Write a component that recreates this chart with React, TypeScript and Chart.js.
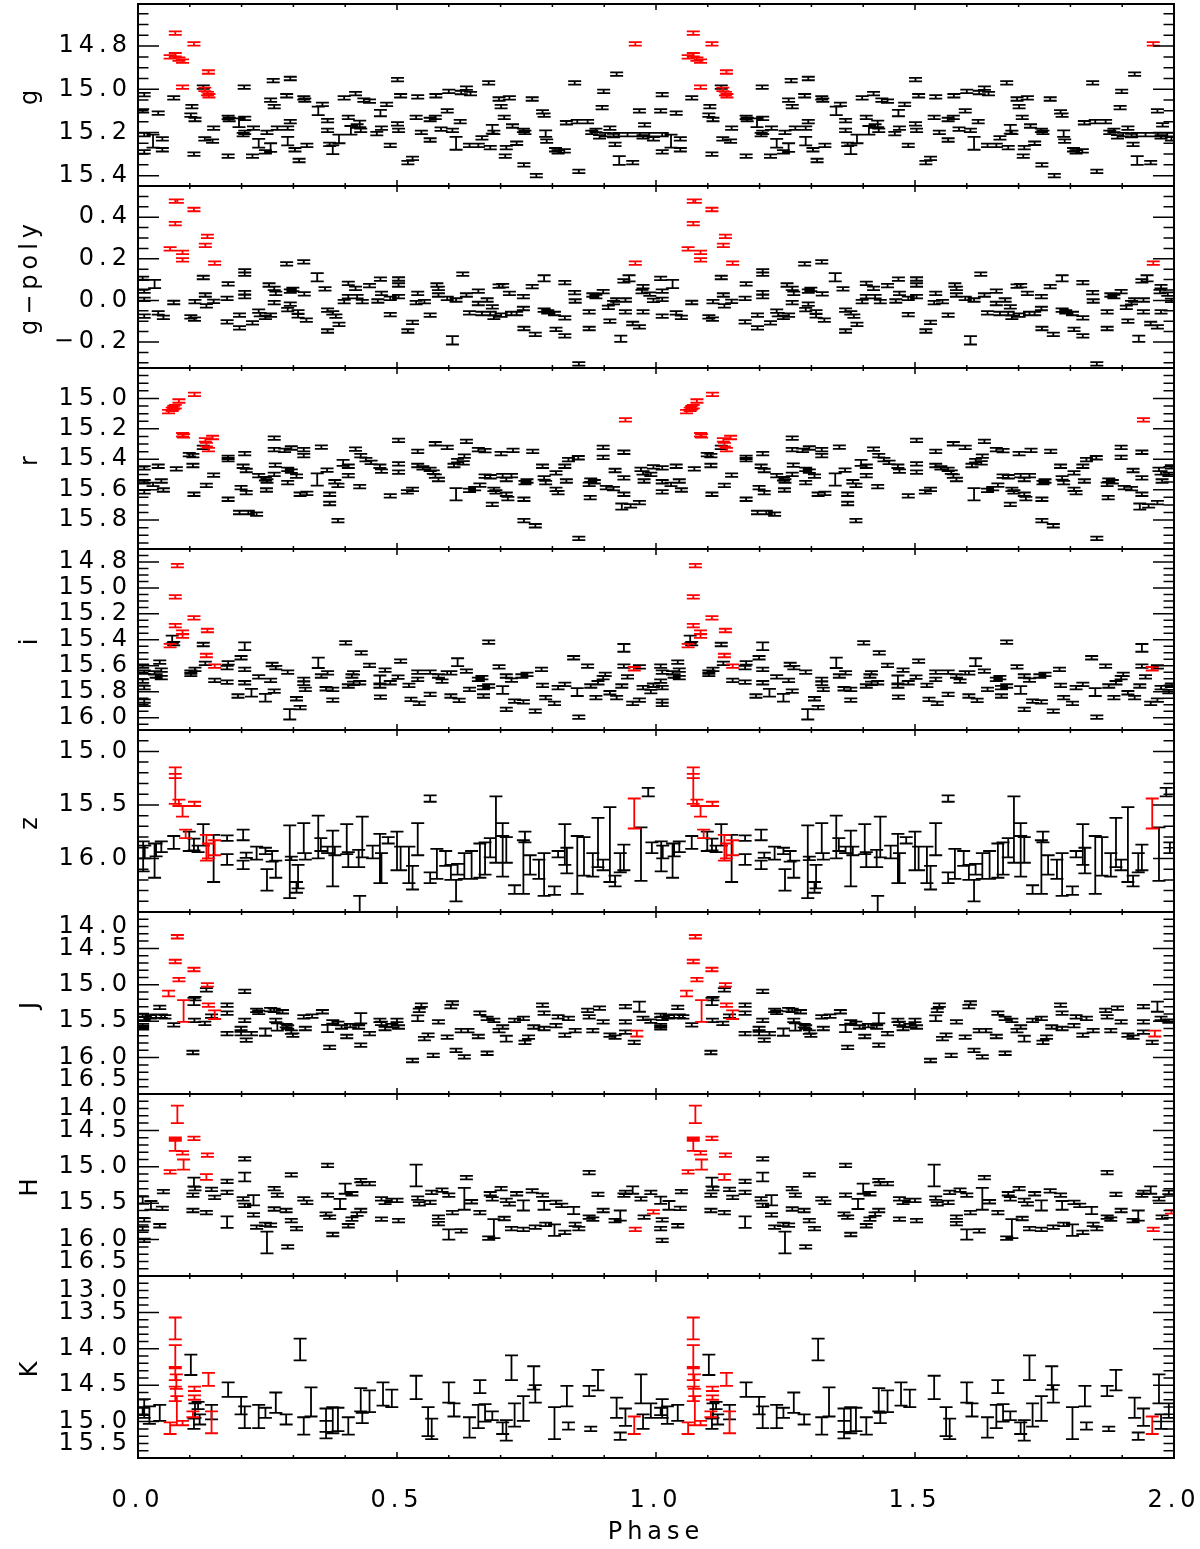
import React, { useEffect, useRef } from 'react';
import { Chart, registerables } from 'chart.js';
Chart.register(...registerables);

// ---------- DATA: [phase, magnitude, error?] for phase 0..1 (plot shows 2 cycles) ----------
const xTicks = [0, 0.5, 1.0, 1.5, 2.0];

const gErr = 0.008;
const gBlack = [[0.012,15.025],[0.009,15.10],[0.012,15.21],[0.012,15.29],[0.029,15.24,0.03],[0.039,15.11],[0.047,15.23],[0.047,15.28],[0.069,15.04],[0.126,14.99],[0.104,15.08],[0.102,15.12],[0.110,15.14],[0.108,15.30],[0.129,15.23],[0.144,15.24],[0.146,15.18],[0.174,15.13],[0.176,15.14],[0.174,15.31],[0.195,15.155,0.02],[0.206,15.135],[0.205,14.99],[0.206,15.20],[0.203,15.21],[0.223,15.18],[0.221,15.31],[0.233,15.25,0.02],[0.246,15.29],[0.249,15.20],[0.256,15.27,0.02],[0.256,15.05],[0.263,15.08],[0.261,14.96],[0.269,15.18],[0.289,15.18],[0.294,14.95],[0.287,15.03],[0.294,15.15],[0.289,15.24,0.02],[0.303,15.28],[0.311,15.33],[0.320,15.04],[0.322,15.05],[0.326,15.26],[0.348,15.10,0.02],[0.356,15.07],[0.366,15.145],[0.366,15.19],[0.370,15.255],[0.376,15.28,0.02],[0.388,15.23,0.02],[0.398,15.04],[0.406,15.13],[0.411,15.19,0.02],[0.420,15.02],[0.423,15.17],[0.428,15.16,0.015],[0.430,15.19],[0.436,15.05],[0.447,15.055],[0.461,15.205],[0.468,15.11,0.015],[0.470,15.18],[0.480,15.07],[0.487,15.26],[0.501,14.955],[0.501,15.16],[0.503,15.19],[0.507,15.03],[0.521,15.34],[0.530,15.32],[0.537,15.13],[0.540,15.035],[0.547,15.20],[0.564,15.235],[0.564,15.14],[0.574,15.13],[0.575,15.03],[0.585,15.185],[0.597,15.10],[0.600,15.01],[0.607,15.19],[0.614,15.25,0.03],[0.624,15.015],[0.634,14.995],[0.622,15.15],[0.640,15.26],[0.642,15.02],[0.657,15.26],[0.664,15.225],[0.677,14.97],[0.684,15.185,0.02],[0.687,15.20],[0.680,15.27],[0.697,15.045],[0.701,15.08],[0.707,15.13],[0.711,15.27],[0.709,15.31],[0.717,15.04],[0.723,15.17],[0.731,15.25],[0.744,15.19],[0.747,15.20],[0.745,15.35],[0.761,15.045],[0.769,15.40],[0.781,15.105],[0.784,15.12],[0.787,15.205,0.015],[0.789,15.24],[0.806,15.28],[0.811,15.29],[0.823,15.285],[0.827,15.155],[0.843,14.97],[0.851,15.38],[0.848,15.15],[0.868,15.15],[0.876,15.20],[0.884,15.19],[0.891,15.22],[0.902,15.21],[0.896,15.085],[0.899,15.01],[0.911,15.18],[0.918,15.215],[0.928,15.21],[0.921,15.255],[0.924,14.93],[0.929,15.33,0.02],[0.945,15.21],[0.955,15.34],[0.968,15.10],[0.969,15.21],[0.975,15.22],[0.978,15.165],[0.987,15.21],[0.995,15.23]];
const gRed = [[0.062,14.85],[0.072,14.84],[0.072,14.74],[0.079,14.86],[0.086,14.87],[0.086,14.99],[0.108,14.79],[0.136,14.92],[0.129,15.00],[0.134,15.02],[0.137,15.03],[0.960,14.79]];

const gpErr = 0.008;
const gpBlack = [[0.009,0.106],[0.012,0.045],[0.012,0.005],[0.012,-0.076],[0.032,0.079,0.02],[0.039,-0.06],[0.049,-0.082],[0.069,-0.01],[0.126,0.110],[0.110,-0.006],[0.102,-0.079],[0.109,-0.09],[0.130,0.026],[0.132,-0.026],[0.146,-0.005],[0.174,0.079],[0.172,0.010],[0.172,-0.103],[0.196,-0.132],[0.206,0.142],[0.206,0.126],[0.206,0.018],[0.206,0.037],[0.196,-0.071],[0.221,-0.108],[0.233,-0.052],[0.236,-0.068],[0.246,-0.082],[0.256,-0.071],[0.253,0.074],[0.263,0.058],[0.266,0.034],[0.263,-0.011],[0.287,0.176],[0.294,0.045],[0.299,0.053],[0.294,-0.018],[0.289,-0.044],[0.309,-0.055],[0.309,-0.074],[0.320,0.185],[0.321,0.031],[0.325,-0.095],[0.346,0.111,0.02],[0.361,0.055],[0.366,-0.147],[0.366,-0.047],[0.376,-0.06],[0.382,-0.076],[0.388,-0.115],[0.398,-0.006],[0.406,0.082],[0.406,0.018],[0.420,0.058],[0.423,0.018],[0.433,-0.006],[0.447,0.071],[0.468,0.102],[0.463,-0.003],[0.470,0.034],[0.487,-0.068],[0.487,0.010],[0.503,0.103],[0.503,0.074],[0.503,0.018],[0.521,-0.147],[0.530,-0.106],[0.540,0.034],[0.537,-0.011],[0.553,-0.006],[0.564,-0.071],[0.577,0.074],[0.580,0.058],[0.580,0.026],[0.597,0.010],[0.607,-0.192,0.02],[0.614,0.002],[0.627,0.126],[0.634,0.026],[0.640,-0.06],[0.657,0.045],[0.657,-0.015],[0.664,-0.063],[0.674,0.002],[0.684,-0.031],[0.680,-0.063],[0.687,-0.082],[0.697,0.069],[0.704,0.071],[0.701,-0.071],[0.717,0.034],[0.721,-0.063],[0.731,-0.063],[0.744,0.018],[0.745,-0.135],[0.744,-0.039],[0.761,0.066],[0.767,-0.163],[0.784,0.106,0.015],[0.784,-0.047],[0.791,-0.055],[0.804,-0.063],[0.807,-0.139],[0.824,-0.171],[0.824,-0.084],[0.824,0.085],[0.843,0.037],[0.844,-0.003],[0.851,-0.305],[0.871,-0.055],[0.871,-0.135],[0.878,0.026],[0.884,0.018],[0.898,0.042],[0.908,-0.034],[0.911,-0.1],[0.918,-0.011],[0.924,0.002],[0.941,0.002],[0.932,-0.184,0.015],[0.938,0.094],[0.941,-0.055],[0.948,0.106,0.015],[0.955,-0.111],[0.968,-0.127],[0.975,0.066],[0.973,0.042],[0.975,-0.055],[0.988,0.03],[0.995,0.0]];
const gpRed = [[0.072,0.477],[0.076,0.477],[0.072,0.369],[0.062,0.248],[0.086,0.231],[0.086,0.195],[0.108,0.437],[0.134,0.308],[0.130,0.265],[0.148,0.179],[0.960,0.179]];

const rErr = 0.01;
const rBlack = [[0.012,15.457],[0.012,15.548],[0.012,15.615],[0.029,15.565],[0.039,15.446],[0.045,15.543],[0.049,15.602],[0.074,15.463],[0.099,15.37],[0.106,15.376],[0.106,15.441],[0.108,15.630],[0.126,15.322],[0.132,15.572],[0.146,15.504],[0.174,15.663],[0.174,15.387],[0.174,15.402],[0.199,15.587],[0.209,15.62],[0.206,15.363],[0.203,15.446],[0.209,15.474],[0.196,15.75],[0.213,15.75],[0.229,15.761],[0.233,15.507],[0.246,15.528],[0.249,15.543],[0.248,15.602],[0.263,15.261],[0.263,15.337],[0.265,15.439],[0.263,15.50],[0.283,15.341],[0.296,15.326],[0.289,15.467],[0.296,15.478],[0.289,15.554],[0.306,15.511],[0.320,15.337],[0.320,15.376],[0.313,15.63],[0.326,15.624],[0.346,15.533,0.04],[0.354,15.32],[0.365,15.472],[0.370,15.63],[0.370,15.691],[0.380,15.548],[0.386,15.572],[0.386,15.804],[0.396,15.424,0.02],[0.406,15.446],[0.406,15.507],[0.428,15.58],[0.420,15.333],[0.430,15.376],[0.440,15.402],[0.450,15.42],[0.467,15.446],[0.470,15.478],[0.487,15.641],[0.503,15.276],[0.503,15.43],[0.503,15.485],[0.520,15.615],[0.530,15.598],[0.540,15.348],[0.540,15.441],[0.550,15.457],[0.564,15.467],[0.570,15.485],[0.574,15.511],[0.580,15.533],[0.574,15.298],[0.597,15.322],[0.610,15.441],[0.617,15.409],[0.628,15.424],[0.630,15.38],[0.614,15.63,0.04],[0.634,15.283],[0.640,15.604],[0.650,15.593],[0.657,15.337],[0.670,15.343],[0.660,15.57],[0.670,15.511],[0.680,15.515],[0.687,15.598],[0.691,15.615],[0.684,15.696],[0.701,15.363],[0.704,15.507],[0.711,15.533],[0.721,15.507],[0.711,15.63],[0.714,15.659],[0.724,15.341],[0.747,15.554],[0.751,15.543],[0.745,15.663],[0.745,15.804],[0.767,15.837],[0.762,15.348],[0.781,15.446],[0.784,15.522],[0.787,15.554],[0.807,15.489],[0.807,15.598],[0.811,15.62],[0.824,15.446],[0.827,15.543],[0.831,15.402],[0.851,15.92],[0.850,15.39],[0.871,15.565],[0.874,15.537],[0.881,15.548],[0.873,15.652],[0.898,15.322],[0.898,15.387],[0.904,15.587],[0.918,15.593],[0.921,15.474],[0.938,15.354],[0.938,15.522],[0.938,15.63],[0.934,15.711,0.02],[0.951,15.707],[0.968,15.685],[0.971,15.467],[0.975,15.489],[0.977,15.543],[0.990,15.5],[0.995,15.45]];
const rRed = [[0.059,15.087],[0.066,15.072],[0.069,15.06],[0.072,15.054],[0.079,15.017],[0.086,15.239],[0.088,15.246],[0.109,14.974],[0.130,15.272],[0.132,15.304],[0.136,15.337],[0.144,15.257],[0.941,15.141]];

const iErr = 0.01;
const iBlack = [[0.009,15.603],[0.012,15.649],[0.009,15.718],[0.012,15.769],[0.012,15.872],[0.012,15.897],[0.032,15.654],[0.035,15.679],[0.045,15.692],[0.045,15.633],[0.042,15.572],[0.066,15.397,0.03],[0.069,15.43],[0.102,15.649],[0.110,15.628],[0.102,15.667],[0.126,15.436],[0.130,15.582],[0.148,15.713],[0.174,15.577],[0.172,15.615],[0.172,15.726],[0.193,15.833],[0.206,15.449,0.03],[0.199,15.538],[0.206,15.628],[0.206,15.731],[0.219,15.808,0.03],[0.233,15.685],[0.246,15.846,0.03],[0.259,15.59],[0.266,15.615],[0.256,15.713],[0.263,15.795],[0.289,15.649],[0.293,15.974,0.04],[0.306,15.854],[0.313,15.923],[0.320,15.705],[0.320,15.736],[0.323,15.782],[0.348,15.577,0.04],[0.354,15.679],[0.366,15.654],[0.363,15.777],[0.376,15.782],[0.376,15.864],[0.401,15.423],[0.406,15.756],[0.416,15.736],[0.413,15.679],[0.416,15.654],[0.431,15.5],[0.447,15.597],[0.428,15.731],[0.467,15.705,0.03],[0.467,15.756],[0.468,15.841],[0.477,15.633],[0.487,15.731],[0.502,15.687],[0.507,15.564],[0.523,15.751],[0.527,15.859],[0.543,15.89],[0.540,15.649],[0.540,15.705],[0.564,15.649],[0.564,15.821],[0.580,15.679],[0.587,15.718],[0.604,15.654],[0.597,15.654],[0.604,15.833],[0.620,15.867],[0.617,15.572,0.03],[0.634,15.641],[0.640,15.782],[0.657,15.705],[0.664,15.692],[0.667,15.769],[0.677,15.756],[0.677,15.418],[0.667,15.833],[0.697,15.608],[0.711,15.679],[0.704,15.787,0.03],[0.711,15.936],[0.721,15.71],[0.727,15.872],[0.744,15.879],[0.741,15.679],[0.751,15.667],[0.767,15.949],[0.779,15.628],[0.781,15.751],[0.787,15.846],[0.804,15.89],[0.811,15.769],[0.824,15.744],[0.841,15.538],[0.848,15.803,0.03],[0.851,15.995],[0.868,15.603],[0.874,15.756],[0.884,15.846],[0.888,15.731],[0.898,15.692],[0.902,15.667],[0.911,15.808],[0.924,15.846],[0.934,15.756],[0.938,15.462,0.03],[0.938,15.603],[0.945,15.685],[0.955,15.89],[0.968,15.864],[0.968,15.608],[0.975,15.769],[0.990,15.8],[0.995,15.75]];
const iRed = [[0.076,14.828],[0.072,15.069],[0.072,15.29],[0.062,15.444],[0.086,15.341],[0.086,15.372],[0.108,15.231],[0.134,15.328],[0.132,15.521],[0.148,15.603],[0.958,15.623]];

const zErr = 0.03;
const zBlack = [[0.010,15.98,0.14],[0.013,15.94,0.06],[0.032,16.02,0.16],[0.035,15.92,0.06],[0.045,15.89,0.05],[0.069,15.85,0.06],[0.099,15.84,0.09],[0.108,15.87,0.055],[0.116,15.91,0.03],[0.126,15.78,0.10],[0.146,16.0,0.22],[0.172,15.81,0.025],[0.172,16.01,0.05],[0.203,15.78,0.05],[0.203,16.06,0.04],[0.209,15.97,0.025],[0.229,15.95,0.06],[0.246,15.93,0.03],[0.249,16.2,0.1],[0.259,15.98,0.05],[0.266,16.1,0.08],[0.293,16.03,0.34],[0.296,16.0,0.01],[0.309,16.17,0.11],[0.306,16.27,0.05],[0.320,15.81,0.14],[0.323,15.98,0.03],[0.348,15.8,0.2],[0.353,15.87,0.06],[0.366,15.92,0.03],[0.376,16.0,0.26],[0.380,15.93,0.04],[0.403,15.82,0.14],[0.406,16.01,0.07],[0.426,16.0,0.08],[0.428,16.45,0.1],[0.433,15.8,0.19],[0.453,15.94,0.06],[0.467,16.0,0.23],[0.470,16.09,0.14],[0.483,15.83,0.03],[0.500,15.93,0.18],[0.507,16.0,0.11],[0.523,16.06,0.17],[0.530,16.18,0.11],[0.540,15.82,0.15],[0.564,15.44,0.03],[0.564,16.18,0.05],[0.577,16.05,0.14],[0.594,16.0,0.07],[0.604,16.13,0.07],[0.614,16.3,0.1],[0.617,16.1,0.05],[0.630,16.07,0.12],[0.644,16.06,0.13],[0.660,16.02,0.16],[0.670,16.0,0.15],[0.680,15.9,0.09],[0.691,15.73,0.31],[0.704,15.73,0.06],[0.704,15.98,0.19],[0.711,15.92,0.12],[0.727,16.29,0.04],[0.744,16.08,0.25],[0.747,15.8,0.05],[0.757,16.06,0.09],[0.774,16.1,0.09],[0.784,16.15,0.2],[0.804,16.3,0.04],[0.811,15.96,0.03],[0.824,15.87,0.19],[0.828,16.02,0.12],[0.848,16.06,0.27],[0.861,15.98,0.18],[0.878,16.06,0.11],[0.888,15.85,0.23],[0.898,16.06,0.05],[0.911,15.87,0.35],[0.921,16.21,0.05],[0.931,16.04,0.09],[0.938,15.99,0.12],[0.971,15.96,0.25],[0.985,15.38,0.04],[0.992,15.9,0.05]];
const zRed = [[0.072,15.32,0.17],[0.072,15.23,0.02],[0.079,15.48,0.03],[0.086,15.56,0.05],[0.109,15.49,0.02],[0.092,15.77,0.04],[0.132,15.9,0.12],[0.136,15.93,0.07],[0.148,15.9,0.07],[0.958,15.58,0.14]];

const jErr = 0.012;
const jBlack = [[0.009,15.42],[0.012,15.46],[0.009,15.56],[0.009,15.59],[0.025,15.44],[0.035,15.43],[0.042,15.31],[0.045,15.43],[0.052,15.44],[0.069,15.55],[0.108,15.23,0.05],[0.109,15.49],[0.106,15.93],[0.110,15.19],[0.129,15.53],[0.132,15.07],[0.142,15.43],[0.172,15.28],[0.172,15.39],[0.172,15.67],[0.199,15.6],[0.206,15.49],[0.206,15.09],[0.199,15.67],[0.209,15.76],[0.219,15.67],[0.229,15.35],[0.233,15.38],[0.246,15.65,0.05],[0.256,15.34],[0.263,15.35],[0.266,15.49],[0.269,15.58,0.05],[0.279,15.37],[0.286,15.56],[0.289,15.58],[0.296,15.65],[0.299,15.69],[0.320,15.44],[0.323,15.6],[0.336,15.43],[0.356,15.37],[0.366,15.6,0.05],[0.370,15.86],[0.376,15.51],[0.386,15.53],[0.393,15.58],[0.403,15.71],[0.410,15.56],[0.430,15.46,0.07],[0.426,15.58],[0.430,15.83],[0.447,15.67],[0.467,15.49],[0.470,15.53],[0.477,15.6],[0.490,15.56],[0.500,15.49],[0.503,15.58],[0.530,16.04],[0.540,15.46,0.04],[0.543,15.35],[0.547,15.28],[0.553,15.74],[0.560,15.69],[0.570,15.97],[0.580,15.51],[0.597,15.72],[0.604,15.3],[0.607,15.25],[0.614,15.9],[0.630,15.99],[0.624,15.63],[0.637,15.63],[0.657,15.71],[0.674,15.94],[0.660,15.39],[0.674,15.46],[0.687,15.49],[0.697,15.63],[0.704,15.58],[0.711,15.74,0.04],[0.727,15.49],[0.744,15.46],[0.747,15.79],[0.754,15.72],[0.764,15.58],[0.781,15.28],[0.784,15.39],[0.784,15.6],[0.807,15.56],[0.811,15.44],[0.831,15.46],[0.824,15.69],[0.844,15.63],[0.868,15.35],[0.871,15.44],[0.878,15.63],[0.891,15.32],[0.898,15.51],[0.911,15.69],[0.921,15.72],[0.941,15.3],[0.941,15.51],[0.941,15.65],[0.958,15.79],[0.968,15.3,0.07],[0.975,15.46],[0.990,15.5]];
const jRed = [[0.076,14.34],[0.072,14.68],[0.079,14.93],[0.108,14.79],[0.059,15.12,0.04],[0.088,15.36,0.15],[0.134,15.0],[0.136,15.28],[0.148,15.41,0.06],[0.963,15.67,0.04]];

const hErr = 0.015;
const hBlack = [[0.009,15.46,0.05],[0.025,15.53,0.06],[0.012,15.73],[0.009,15.85],[0.012,16.01],[0.042,15.81],[0.049,15.34],[0.047,15.57],[0.108,15.21,0.06],[0.110,15.3],[0.106,15.39],[0.106,15.6],[0.132,15.63],[0.142,15.31],[0.148,15.42],[0.172,15.2],[0.172,15.35],[0.172,15.76,0.08],[0.206,14.89],[0.206,15.14,0.06],[0.203,15.44],[0.206,15.53],[0.223,15.46,0.07],[0.223,15.66],[0.229,15.83],[0.246,15.79],[0.256,15.8],[0.249,16.04,0.15],[0.263,15.58],[0.263,15.3],[0.269,15.39],[0.286,15.6],[0.296,15.11],[0.296,15.74],[0.306,15.85],[0.289,16.1],[0.320,15.44],[0.326,15.49],[0.366,14.98],[0.366,15.39],[0.363,15.65],[0.370,15.69],[0.376,15.93],[0.390,15.51,0.07],[0.400,15.3,0.07],[0.406,15.81],[0.413,15.37],[0.413,15.72],[0.423,15.65],[0.430,15.19],[0.433,15.23],[0.447,15.23],[0.430,15.6],[0.470,15.44],[0.477,15.49],[0.470,15.72],[0.490,15.46],[0.500,15.46],[0.503,15.74],[0.537,15.12,0.15],[0.540,15.43],[0.543,15.51],[0.564,15.49],[0.567,15.35],[0.587,15.32],[0.580,15.69],[0.580,15.78],[0.600,15.39],[0.600,15.93,0.07],[0.607,15.63],[0.624,15.88],[0.634,15.15],[0.630,15.44,0.15],[0.644,15.48],[0.660,15.63],[0.677,15.98],[0.680,15.37],[0.684,15.44],[0.687,15.85,0.13],[0.701,15.3],[0.707,15.71],[0.711,15.46],[0.717,15.51],[0.731,15.37],[0.721,15.85],[0.744,15.53,0.07],[0.744,15.86],[0.761,15.33],[0.767,15.83],[0.781,15.39],[0.784,15.53,0.06],[0.787,15.79],[0.804,15.87,0.08],[0.807,15.49],[0.818,15.53],[0.824,15.9],[0.841,15.6,0.05],[0.844,15.79],[0.851,15.85],[0.871,15.08],[0.871,15.69],[0.888,15.38],[0.878,15.72],[0.898,15.6],[0.921,15.74],[0.931,15.67,0.07],[0.938,15.39],[0.941,15.35],[0.955,15.32,0.05],[0.971,15.44],[0.977,15.69],[0.990,15.35]];
const hRed = [[0.076,14.28,0.12],[0.072,14.62],[0.072,14.7,0.08],[0.108,14.61],[0.086,14.81],[0.088,14.97,0.07],[0.062,15.07],[0.134,14.84],[0.132,15.14,0.04],[0.960,15.86],[0.995,15.62]];

const kErr = 0.05;
const kBlack = [[0.012,14.82,0.13],[0.009,14.86],[0.022,14.91,0.12],[0.042,14.88,0.11],[0.102,14.22,0.14],[0.110,14.85,0.1],[0.108,15.03,0.07],[0.116,14.78],[0.119,14.97,0.07],[0.142,14.87,0.1],[0.174,14.56,0.1],[0.199,14.78,0.12],[0.206,14.94,0.15],[0.233,14.93,0.16],[0.246,14.88,0.07],[0.266,14.74,0.14],[0.286,14.97,0.07],[0.313,14.01,0.15],[0.320,15.06,0.12],[0.334,14.73,0.2],[0.363,14.98,0.16],[0.363,15.11,0.12],[0.376,14.98,0.18],[0.386,14.97,0.16],[0.406,15.06,0.12],[0.430,14.7,0.16],[0.433,14.95,0.07],[0.447,14.72,0.15],[0.473,14.62,0.16],[0.490,14.68,0.12],[0.537,14.53,0.16],[0.560,15.0,0.2],[0.567,15.1,0.14],[0.600,14.6,0.14],[0.610,14.84,0.09],[0.640,15.08,0.14],[0.657,14.93,0.16],[0.660,14.52,0.09],[0.670,14.88,0.12],[0.684,14.92,0.06],[0.704,15.09,0.08],[0.711,15.12,0.14],[0.721,14.26,0.17],[0.727,14.91,0.16],[0.744,14.82,0.17],[0.764,14.4,0.16],[0.767,14.62,0.12],[0.804,15.02,0.22],[0.828,14.65,0.14],[0.831,15.06,0.05],[0.871,14.58,0.07],[0.888,14.43,0.14],[0.874,15.1,0.03],[0.924,14.81,0.14],[0.931,15.2,0.05],[0.941,14.94,0.12],[0.971,14.55,0.2],[0.975,15.0,0.1],[0.990,14.85,0.1]];
const kRed = [[0.072,13.72,0.15],[0.072,14.1,0.15],[0.072,14.35,0.08],[0.074,14.45,0.1],[0.072,14.62,0.1],[0.075,14.85,0.2],[0.062,15.09,0.08],[0.086,15.02,0.03],[0.109,14.55,0.03],[0.109,14.67,0.03],[0.106,14.9,0.04],[0.136,14.42,0.09],[0.142,15.01,0.15],[0.958,15.05,0.12]];

// ---------- panel definitions (axis ranges and tick labels) ----------
const PANELS = [
  { label: 'g', black: gBlack, red: gRed, err: gErr, min: 14.605, max: 15.448, reverse: true, majors: [14.8, 15.0, 15.2, 15.4], minor: 0.05 },
  { label: 'g\u2212poly', black: gpBlack, red: gpRed, err: gpErr, min: -0.325, max: 0.55, reverse: false, majors: [-0.2, 0.0, 0.2, 0.4], minor: 0.05 },
  { label: 'r', black: rBlack, red: rRed, err: rErr, min: 14.80, max: 15.99, reverse: true, majors: [15.0, 15.2, 15.4, 15.6, 15.8], minor: 0.05 },
  { label: 'i', black: iBlack, red: iRed, err: iErr, min: 14.70, max: 16.095, reverse: true, majors: [14.8, 15.0, 15.2, 15.4, 15.6, 15.8, 16.0], minor: 0.05 },
  { label: 'z', black: zBlack, red: zRed, err: zErr, min: 14.8, max: 16.5, reverse: true, majors: [15.0, 15.5, 16.0], minor: 0.1 },
  { label: 'J', black: jBlack, red: jRed, err: jErr, min: 14.0, max: 16.5, reverse: true, majors: [14.0, 14.5, 15.0, 15.5, 16.0, 16.5], minor: 0.1 },
  { label: 'H', black: hBlack, red: hRed, err: hErr, min: 14.0, max: 16.5, reverse: true, majors: [14.0, 14.5, 15.0, 15.5, 16.0, 16.5], minor: 0.1 },
  { label: 'K', black: kBlack, red: kRed, err: kErr, min: 13.0, max: 15.5, reverse: true, majors: [13.0, 13.5, 14.0, 14.5, 15.0, 15.5], minor: 0.1 },
];

// ---------- layout / style ----------
const W = 1200;
const EDGES = [4, 186, 368, 549, 730, 912, 1094, 1276, 1458];
const PAD = 40;
const XAXIS_H = 90;
const LEFT = 138;
const RIGHT_PAD = 26;
const FONT = { family: 'DejaVu Sans', size: 24, weight: 'normal' as const };
const CAP = 6.5;

const fmt = (v: number) => (v < -1e-9 ? '\u2212' : '') + Math.abs(v).toFixed(1);

const toPoints = (pts: number[][], defErr: number) => {
  const out: { x: number; y: number; e: number }[] = [];
  for (const cyc of [0, 1]) for (const p of pts) out.push({ x: p[0] + cyc, y: p[1], e: p[2] ?? defErr });
  return out;
};

const spacingPlugin = {
  id: 'spacing',
  beforeDraw(chart: any) { try { chart.ctx.letterSpacing = '5px'; } catch (e) {} },
  afterDraw(chart: any) { try { chart.ctx.letterSpacing = '0px'; } catch (e) {} },
};

const errorBarPlugin = {
  id: 'errorBars',
  afterDatasetsDraw(chart: any) {
    const { ctx, chartArea: a } = chart;
    ctx.save();
    ctx.beginPath();
    ctx.rect(a.left, a.top, a.right - a.left, a.bottom - a.top);
    ctx.clip();
    chart.data.datasets.forEach((ds: any, i: number) => {
      const meta = chart.getDatasetMeta(i);
      const xs = chart.scales[meta.xAxisID];
      const ys = chart.scales[meta.yAxisID];
      ctx.strokeStyle = ds.borderColor;
      ctx.lineWidth = 1.8;
      ctx.beginPath();
      for (const d of ds.data) {
        const x = xs.getPixelForValue(d.x);
        let y1 = ys.getPixelForValue(d.y - d.e);
        let y2 = ys.getPixelForValue(d.y + d.e);
        if (Math.abs(y2 - y1) < 3.5) { const m = (y1 + y2) / 2; y1 = m - 1.75; y2 = m + 1.75; }
        ctx.moveTo(x, y1); ctx.lineTo(x, y2);
        ctx.moveTo(x - CAP, y1); ctx.lineTo(x + CAP, y1);
        ctx.moveTo(x - CAP, y2); ctx.lineTo(x + CAP, y2);
      }
      ctx.stroke();
    });
    ctx.restore();
  },
};

const framePlugin = {
  id: 'frame',
  afterDraw(chart: any, _args: any, opts: any) {
    const { ctx, chartArea: a } = chart;
    const xs = chart.scales.x, ys = chart.scales.y;
    ctx.save();
    ctx.strokeStyle = '#000';
    ctx.lineWidth = 1.5;
    ctx.beginPath();
    for (let i = 0; i <= 20; i++) {
      const px = xs.getPixelForValue(i / 10);
      const len = i % 5 === 0 ? 6 : 3;
      ctx.moveTo(px, a.top); ctx.lineTo(px, a.top + len);
      ctx.moveTo(px, a.bottom); ctx.lineTo(px, a.bottom - len);
    }
    const step = opts.minor;
    const n0 = Math.ceil(opts.min / step - 1e-6), n1 = Math.floor(opts.max / step + 1e-6);
    for (let n = n0; n <= n1; n++) {
      const v = n * step;
      const isMajor = opts.majors.some((m: number) => Math.abs(m - v) < step / 10);
      const len = isMajor ? 21 : 10.5;
      const py = ys.getPixelForValue(v);
      ctx.moveTo(a.left, py); ctx.lineTo(a.left + len, py);
      ctx.moveTo(a.right, py); ctx.lineTo(a.right - len, py);
    }
    ctx.stroke();
    ctx.lineWidth = 2;
    ctx.strokeRect(a.left, a.top, a.right - a.left, a.bottom - a.top);
    ctx.restore();
  },
};

function Panel({ idx }: { idx: number }) {
  const ref = useRef<HTMLCanvasElement>(null);
  const cfg = PANELS[idx];
  const isLast = idx === PANELS.length - 1;
  const top = EDGES[idx] - PAD;
  const height = EDGES[idx + 1] - EDGES[idx] + PAD + (isLast ? XAXIS_H : PAD);

  useEffect(() => {
    if (!ref.current) return;
    const topVal = cfg.reverse ? cfg.min : cfg.max;
    const botVal = cfg.reverse ? cfg.max : cfg.min;
    const yLabel = (val: any) => {
      const v = Number(val);
      const s = fmt(v);
      if (Math.abs(v - topVal) < 1e-6) return ['', s]; // edge label kept inside the frame
      if (Math.abs(v - botVal) < 1e-6) return [s, ''];
      return s;
    };
    const chart = new Chart(ref.current, {
      type: 'scatter',
      data: {
        datasets: [
          { data: toPoints(cfg.black, cfg.err), borderColor: '#000000', backgroundColor: '#000000', pointRadius: 0, showLine: false },
          { data: toPoints(cfg.red, cfg.err), borderColor: '#ff0000', backgroundColor: '#ff0000', pointRadius: 0, showLine: false },
        ],
      } as any,
      options: {
        animation: false,
        responsive: false,
        devicePixelRatio: 1,
        events: [],
        layout: { padding: { left: 0, right: RIGHT_PAD, top: PAD, bottom: isLast ? 0 : PAD } },
        plugins: {
          legend: { display: false },
          tooltip: { enabled: false },
          frame: { min: cfg.min, max: cfg.max, majors: cfg.majors, minor: cfg.minor },
        } as any,
        scales: {
          x: {
            type: 'linear', min: 0, max: 2, display: isLast,
            grid: { display: false, drawTicks: true, tickLength: 28 }, border: { display: false },
            afterBuildTicks: (s: any) => { s.ticks = xTicks.map((v) => ({ value: v })); },
            ticks: { padding: 0, font: FONT, color: '#000', maxRotation: 0, autoSkip: false, callback: (v: any) => Number(v).toFixed(1) },
            title: { display: true, text: 'Phase', font: FONT, color: '#000', padding: { top: 0, bottom: 1 } },
            afterFit: (s: any) => { if (isLast) s.height = XAXIS_H; },
          },
          y: {
            type: 'linear', min: cfg.min, max: cfg.max, reverse: cfg.reverse,
            grid: { display: false, drawTicks: false }, border: { display: false },
            afterBuildTicks: (s: any) => { s.ticks = cfg.majors.map((v) => ({ value: v })); },
            ticks: { padding: 6, font: FONT, color: '#000', autoSkip: false, callback: yLabel },
            title: { display: true, text: cfg.label, font: FONT, color: '#000', padding: { top: 16, bottom: 0 } },
            afterFit: (s: any) => { s.width = LEFT; },
          },
        } as any,
      },
      plugins: [spacingPlugin, errorBarPlugin, framePlugin],
    });
    return () => chart.destroy();
  }, []);

  return (
    <canvas
      ref={ref}
      width={W}
      height={height}
      style={{ position: 'absolute', left: 0, top, width: W, height, display: 'block' }}
    />
  );
}

export default function App() {
  return (
    <div style={{ position: 'absolute', left: 0, top: 0, width: W, height: 1549, background: '#fff', overflow: 'hidden' }}>
      {PANELS.map((_, i) => (
        <Panel key={i} idx={i} />
      ))}
    </div>
  );
}
